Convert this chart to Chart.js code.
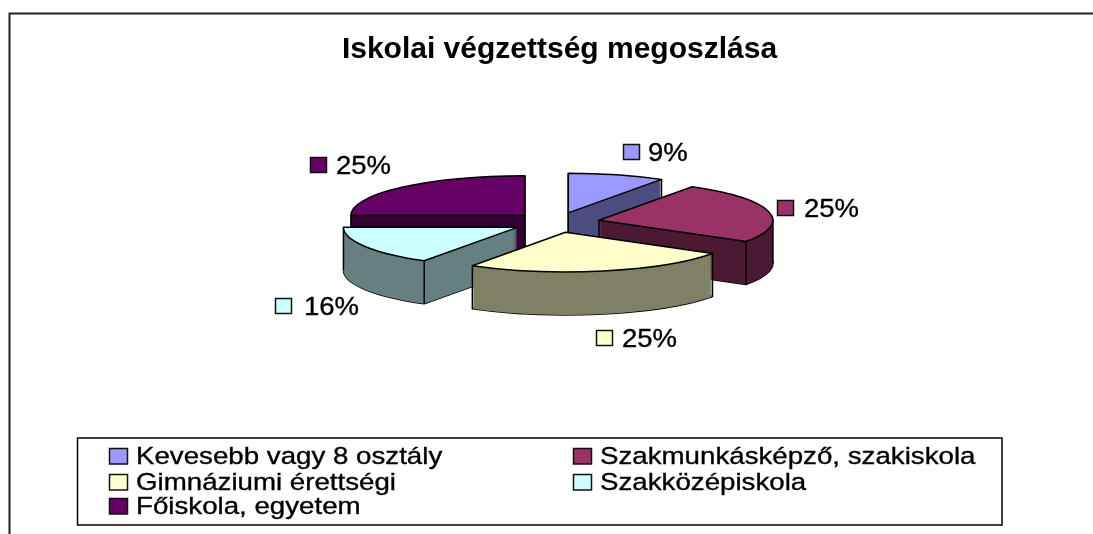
<!DOCTYPE html>
<html>
<head>
<meta charset="utf-8">
<style>html,body{margin:0;padding:0;background:#fff}canvas{display:block}</style>
<script src="https://cdn.jsdelivr.net/npm/chart.js@4/dist/chart.umd.min.js"></script>
</head>
<body>
<canvas id="c" width="1093" height="534"></canvas>
<script>
const titleText = 'Iskolai végzettség megoszlása';
const categories = ['Kevesebb vagy 8 osztály','Szakmunkásképző, szakiskola','Gimnáziumi érettségi','Szakközépiskola','Főiskola, egyetem'];
const shares = [9,25,25,16,25];
const topColors = ['#9999ff','#993366','#ffffcc','#ccffff','#660066'];
const wallColors = ['#4d4d80','#4d1a33','#808066','#668080','#330033'];

const FONT = '"Liberation Sans", Arial, sans-serif';
const pie = {cx:556, cy:222.5, k:0.228, depth:43, radius:174, explode:44};
const drawOrder = [4,0,1,3,2];
const labelPos = [[623,144,648,161],[777,200,804,217],[596,330,622,347],[275,298,304,315],[310,157,336,174]];
const legendBox = {l:77.5,t:438,r:1002,b:525};
const legendSlots = [[109,136,464],[573,600,464],[109,136,490],[573,600,490],[109,136,514]];

function apex(a){
  const mid=(a.startAngle+a.endAngle)/2, d=a.options.offset;
  return {x:pie.cx+Math.cos(mid)*d, y:pie.cy+Math.sin(mid)*d*pie.k, R:a.outerRadius, mid};
}
function path(ctx,a,dy){
  const p=apex(a);
  ctx.beginPath();
  ctx.moveTo(p.x,p.y+dy);
  ctx.ellipse(p.x,p.y+dy,p.R,p.R*pie.k,0,a.startAngle,a.endAngle);
  ctx.closePath();
}
function vertical(ctx,x,y){
  ctx.beginPath();ctx.moveTo(x,y);ctx.lineTo(x,y+pie.depth);ctx.stroke();
}
function text(ctx,s,x,y,size,stretch){
  ctx.save();
  ctx.font=size+'px '+FONT;
  ctx.fillStyle='#000';
  ctx.strokeStyle='#000';
  ctx.lineWidth=0.35;
  ctx.textAlign='left';
  ctx.textBaseline='alphabetic';
  ctx.translate(x,y);
  ctx.scale(stretch,1);
  ctx.fillText(s,0,0);
  ctx.strokeText(s,0,0);
  ctx.restore();
}
function swatch(ctx,x,y,w,h,color){
  ctx.fillStyle=color;ctx.fillRect(x,y,w,h);
  ctx.strokeStyle='#111';ctx.lineWidth=1.5;ctx.strokeRect(x,y,w,h);
}
const pie3d={
  id:'pie3d',
  beforeDraw(chart){
    const ctx=chart.ctx;
    ctx.save();
    ctx.fillStyle='#fff';ctx.fillRect(0,0,1093,534);
    ctx.strokeStyle='#222';ctx.lineWidth=2;
    ctx.beginPath();ctx.moveTo(9.5,534);ctx.lineTo(9.5,13.5);ctx.lineTo(1093,13.5);ctx.stroke();
    ctx.restore();
  },
  beforeDatasetDraw(chart){
    const ctx=chart.ctx;
    const arcs=chart.getDatasetMeta(0).data;
    ctx.save();
    ctx.lineJoin='round';
    ctx.strokeStyle='#000';ctx.lineWidth=1.5;
    drawOrder.forEach(i=>{
      const a=arcs[i], p=apex(a);
      path(ctx,a,pie.depth);ctx.stroke();
      ctx.fillStyle=wallColors[i];
      for(let d=pie.depth;d>=1;d--){path(ctx,a,d);ctx.fill();}
      if(Math.sin(p.mid)<0) vertical(ctx,p.x,p.y);
      const turns=[a.startAngle,a.endAngle];
      for(const t of [0,Math.PI,2*Math.PI]) if(t>a.startAngle&&t<a.endAngle) turns.push(t);
      turns.forEach(t=>vertical(ctx,p.x+Math.cos(t)*p.R,p.y+Math.sin(t)*p.R*pie.k));
      ctx.fillStyle=topColors[i];
      path(ctx,a,0);ctx.fill();ctx.stroke();
    });
    ctx.restore();
    return false;
  },
  afterDatasetsDraw(chart){
    const ctx=chart.ctx;
    ctx.save();
    shares.forEach((v,i)=>{
      const [sx,sy,tx,ty]=labelPos[i];
      swatch(ctx,sx+.5,sy+.5,16,15,topColors[i]);
      text(ctx,v+'%',tx,ty,25,1.1);
    });
    ctx.strokeStyle='#000';ctx.lineWidth=1.5;
    ctx.strokeRect(legendBox.l,legendBox.t,legendBox.r-legendBox.l,legendBox.b-legendBox.t);
    categories.forEach((c,i)=>{
      const [sx,tx,by]=legendSlots[i];
      swatch(ctx,sx+.5,by-16+.5,18,15.5,topColors[i]);
      text(ctx,c,tx,by,24.5,1.13);
    });
    ctx.restore();
  }
};
new Chart(document.getElementById('c'),{
  type:'pie',
  data:{labels:categories,datasets:[{
    data:shares,
    backgroundColor:topColors,
    borderWidth:0,
    radius:pie.radius,
    offset:pie.explode
  }]},
  options:{
    responsive:false,
    animation:false,
    events:[],
    layout:{padding:{left:26,top:22}},
    plugins:{
      legend:{display:false},
      tooltip:{enabled:false},
      title:{display:true,text:titleText,color:'#000',font:{family:FONT,size:30,weight:'bold'},padding:{top:10,bottom:10}}
    }
  },
  plugins:[pie3d]
});
</script>
</body>
</html>
